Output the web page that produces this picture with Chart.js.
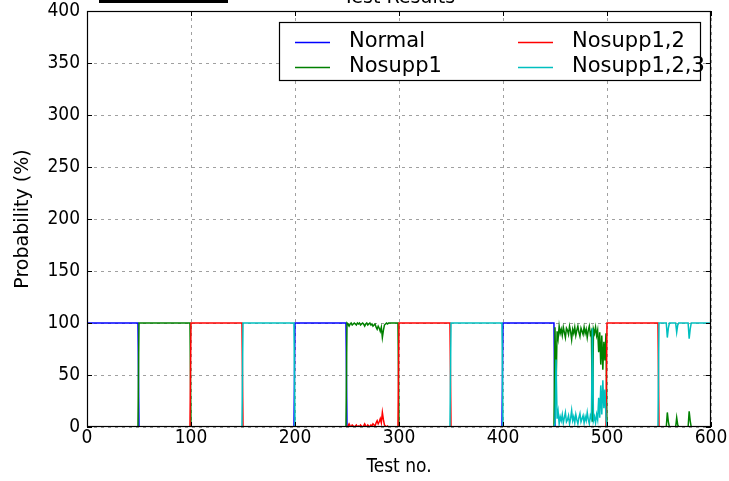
<!DOCTYPE html>
<html><head><meta charset="utf-8">
<script src="https://cdn.jsdelivr.net/npm/chart.js@4/dist/chart.umd.min.js"></script>
<style>
html,body{margin:0;padding:0;background:#fff;}
#wrap{position:relative;width:729px;height:481px;}
#bar{position:absolute;left:99px;top:0;width:129px;height:3px;background:#000;}
</style></head><body>
<div id="wrap"><canvas id="c"></canvas><div id="bar"></div></div>
<script>
// ---- data ----
const chartTitle = 'Test Results';
const seriesNames = ['Normal', 'Nosupp1', 'Nosupp1,2', 'Nosupp1,2,3'];
const seriesColors = ['#0000ff', '#008000', '#ff0000', '#00bfbf'];
const xTicks = [0, 100, 200, 300, 400, 500, 600];
const yTicks = [0, 50, 100, 150, 200, 250, 300, 350, 400];
const testCount = 600;
const blockSize = 50;
// index of the series reading 100 % in each block of 50 tests
const blockLeader = [0, 1, 2, 3, 0, 1, 2, 3, 0, 1, 2, 3];

// noisy stretches
const block5Start = 250;
const block5Nosupp1 = [100,99,97,99,100,98,99,100,99,98,100,99,100,98,99,100,99,97,99,100,98,99,100,98,99,97,98,99,96,94,97,95,92,96,86,93,98,99,100,99,100,100,100,100,100,100,100,100,100,100];
const block5Nosupp12 = [0,1,3,1,0,2,1,0,1,2,0,1,0,2,1,0,1,3,1,0,2,1,0,2,1,3,2,1,4,6,3,5,8,4,14,7,2,1,0,1,0,0,0,0,0,0,0,0,0,0];

const block9Start = 450;
const block9Nosupp1 = [96,35,92,85,97,90,94,88,96,91,86,95,93,89,97,92,84,94,90,96,88,93,97,91,87,95,92,89,96,90,94,86,93,97,89,92,5,94,90,96,88,93,72,91,60,88,55,82,64,90];
const block9Nosupp123 = [4,65,8,15,3,10,6,12,4,9,14,5,7,11,3,8,16,6,10,4,12,7,3,9,13,5,8,11,4,10,6,14,7,3,11,8,95,6,10,4,12,7,28,9,40,12,45,18,36,10];

const block11Start = 550;
const block11Nosupp1 = [0,0,0,0,0,0,0,0,14,5,0,0,0,0,0,0,0,9,2,0,0,0,0,0,0,0,0,0,0,15,6,0,0,0,0,0,0,0,0,0,0,0,0,0,0,0,0,0,0,0];
const block11Nosupp123 = [100,100,100,100,100,100,100,100,86,95,100,100,100,100,100,100,100,91,98,100,100,100,100,100,100,100,100,100,100,85,94,100,100,100,100,100,100,100,100,100,100,100,100,100,100,100,100,100,100,100];

const overrides = [
  {series: 1, start: block5Start, values: block5Nosupp1},
  {series: 2, start: block5Start, values: block5Nosupp12},
  {series: 1, start: block9Start, values: block9Nosupp1},
  {series: 3, start: block9Start, values: block9Nosupp123},
  {series: 1, start: block11Start, values: block11Nosupp1},
  {series: 3, start: block11Start, values: block11Nosupp123}
];

function buildSeries(s) {
  const out = [];
  for (let i = 0; i < testCount; i++) {
    out.push(blockLeader[Math.floor(i / blockSize)] === s ? 100 : 0);
  }
  overrides.filter(o => o.series === s).forEach(o => {
    o.values.forEach((v, k) => { out[o.start + k] = v; });
  });
  return out.map((v, i) => ({x: i, y: v}));
}

const FONT = "'DejaVu Sans', 'Liberation Sans', sans-serif";
const FONT_NARROW = "'DejaVu Sans Condensed', 'DejaVu Sans', sans-serif";
Chart.defaults.font.family = FONT;
Chart.defaults.color = '#000';

const decor = {
  id: 'decor',
  afterDraw(chart) {
    const ctx = chart.ctx, a = chart.chartArea;
    const xs = chart.scales.x, ys = chart.scales.y;
    ctx.save();
    // frame
    ctx.strokeStyle = '#000';
    ctx.lineWidth = 1.2;
    ctx.strokeRect(a.left + 0.5, a.top + 0.5, a.right - a.left - 1, a.bottom - a.top - 1);
    // inward ticks
    ctx.lineWidth = 1;
    ctx.beginPath();
    xTicks.forEach(v => {
      const p = Math.round(xs.getPixelForValue(v)) + 0.5;
      ctx.moveTo(p, a.top); ctx.lineTo(p, a.top + 5);
      ctx.moveTo(p, a.bottom); ctx.lineTo(p, a.bottom - 5);
    });
    yTicks.forEach(v => {
      const p = Math.round(ys.getPixelForValue(v)) + 0.5;
      ctx.moveTo(a.left, p); ctx.lineTo(a.left + 5, p);
      ctx.moveTo(a.right, p); ctx.lineTo(a.right - 5, p);
    });
    ctx.stroke();
    // title (mostly cut off at top)
    ctx.fillStyle = '#000';
    ctx.font = '19px ' + FONT;
    ctx.textAlign = 'center';
    ctx.textBaseline = 'alphabetic';
    ctx.fillText(chartTitle, (a.left + a.right) / 2, 3);
    // legend
    const bx = a.left + 192, by = a.top + 11, bw = a.right - 11 - bx, bh = 58;
    ctx.fillStyle = '#fff';
    ctx.fillRect(bx, by, bw, bh);
    ctx.strokeStyle = '#000';
    ctx.lineWidth = 1.2;
    ctx.strokeRect(bx + 0.5, by + 0.5, bw, bh);
    ctx.font = '21px ' + FONT;
    ctx.textAlign = 'left';
    ctx.textBaseline = 'middle';
    const cols = [bx + 16, bx + 239];
    const rows = [by + 20, by + 45];
    seriesNames.forEach((name, i) => {
      const cx = cols[Math.floor(i / 2)], cy = rows[i % 2];
      ctx.strokeStyle = seriesColors[i];
      ctx.lineWidth = 1.5;
      ctx.beginPath();
      ctx.moveTo(cx, cy + 0.5); ctx.lineTo(cx + 35, cy + 0.5);
      ctx.stroke();
      ctx.fillStyle = '#000';
      ctx.fillText(name, cx + 54, cy);
    });
    ctx.restore();
  }
};

new Chart(document.getElementById('c'), {
  type: 'line',
  data: {
    datasets: seriesNames.map((name, i) => ({
      label: name,
      data: buildSeries(i),
      borderColor: seriesColors[i],
      backgroundColor: seriesColors[i],
      borderWidth: 1.5,
      pointRadius: 0,
      tension: 0,
      fill: false,
      order: seriesNames.length - 1 - i
    }))
  },
  options: {
    animation: false,
    responsive: true,
    maintainAspectRatio: false,
    layout: {padding: {top: 11, right: 18, left: 0, bottom: 0}},
    plugins: {legend: {display: false}, tooltip: {enabled: false}, title: {display: false}},
    scales: {
      x: {
        type: 'linear', min: 0, max: 600,
        afterBuildTicks: s => { s.ticks = xTicks.map(v => ({value: v})); },
        ticks: {font: {size: 19, family: FONT_NARROW}, color: '#000', padding: 0, maxRotation: 0, autoSkip: false},
        grid: {color: '#a0a0a0', lineWidth: 1, drawTicks: false},
        border: {display: false, dash: [3, 4]},
        title: {display: true, text: 'Test no.', font: {size: 19, family: FONT_NARROW}, color: '#000', padding: {top: 0, bottom: 3}},
        afterFit: s => { s.height = 54; s.paddingLeft = 0; s.paddingRight = 0; }
      },
      y: {
        type: 'linear', min: 0, max: 400,
        afterBuildTicks: s => { s.ticks = yTicks.map(v => ({value: v})); },
        ticks: {font: {size: 19, family: FONT_NARROW}, color: '#000', padding: 7, autoSkip: false},
        grid: {color: '#a0a0a0', lineWidth: 1, drawTicks: false},
        border: {display: false, dash: [3, 4]},
        title: {display: true, text: 'Probability (%)', font: {size: 19}, color: '#000', padding: {top: 12, bottom: 0}},
        afterFit: s => { s.width = 87; s.paddingTop = 0; s.paddingBottom = 0; }
      }
    }
  },
  plugins: [decor]
});
</script>
</body></html>
